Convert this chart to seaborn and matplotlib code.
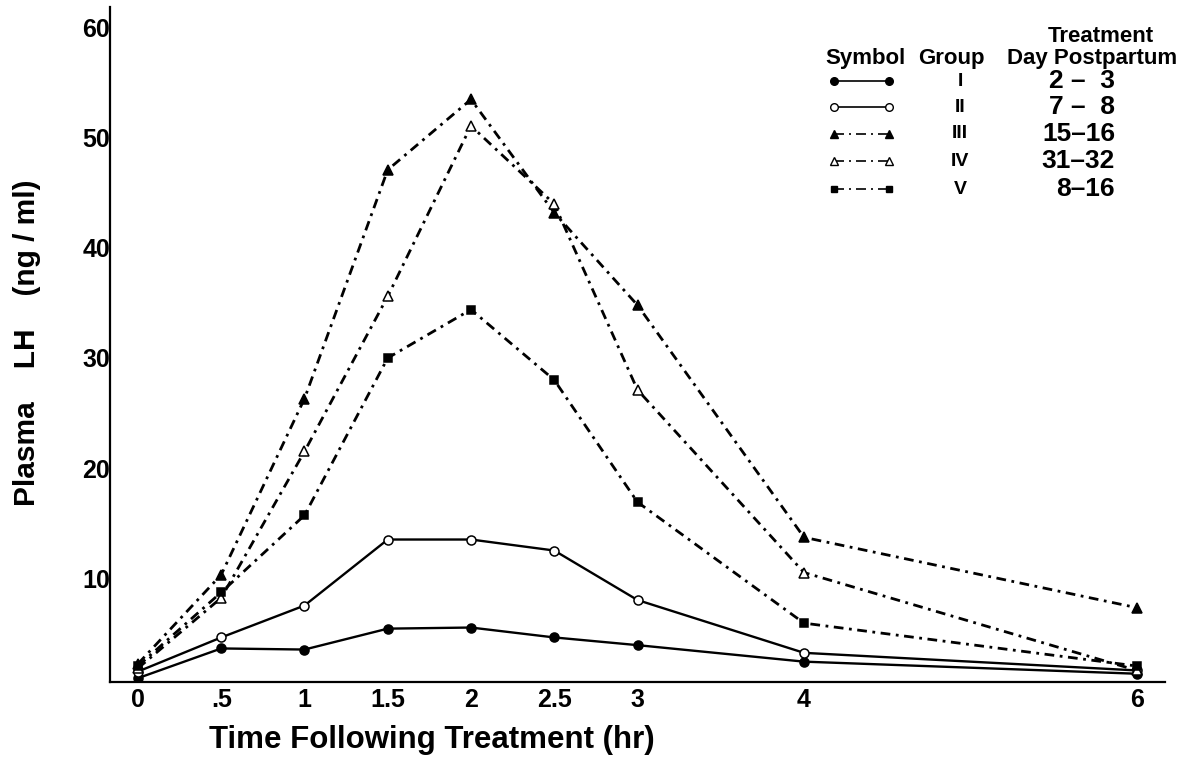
import matplotlib
matplotlib.use("Agg")
import matplotlib.pyplot as plt
from matplotlib.lines import Line2D
import seaborn as sns
import pandas as pd

# ---- data ----
times = [0, 0.5, 1, 1.5, 2, 2.5, 3, 4, 6]
group_I = [0.9, 3.6, 3.5, 5.4, 5.5, 4.6, 3.9, 2.4, 1.3]
group_II = [1.5, 4.6, 7.5, 13.5, 13.5, 12.5, 8.0, 3.2, 1.6]
group_III = [2.2, 10.3, 26.3, 47.1, 53.5, 43.2, 34.8, 13.7, 7.3]
group_IV = [1.8, 8.2, 21.5, 35.6, 51.1, 44.0, 27.1, 10.5, 1.6]
group_V = [2.0, 8.7, 15.7, 30.0, 34.4, 28.0, 16.9, 5.9, 2.0]

group_names = ["I", "II", "III", "IV", "V"]
day_labels = ["2 \u2013  3", "7 \u2013  8", "15\u201316", "31\u201332", "8\u201316"]
x_ticks = [0, 0.5, 1, 1.5, 2, 2.5, 3, 4, 6]
x_tick_labels = ["0", ".5", "1", "1.5", "2", "2.5", "3", "4", "6"]
y_ticks = [10, 20, 30, 40, 50, 60]

series = [group_I, group_II, group_III, group_IV, group_V]

# ---- styles ----
DASHDOT = (0, (3.5, 2.0, 1.0, 2.0))
styles = [
    dict(marker="o", mfc="black", ms=6.5, ls="-", lw=1.7),
    dict(marker="o", mfc="white", ms=6.5, ls="-", lw=1.7),
    dict(marker="^", mfc="black", ms=6.5, ls=DASHDOT, lw=2.0),
    dict(marker="^", mfc="white", ms=6.5, ls=DASHDOT, lw=2.0),
    dict(marker="s", mfc="black", ms=5.5, ls=DASHDOT, lw=2.0),
]

sns.set_style("white")
plt.rcParams["font.family"] = ["Liberation Sans", "DejaVu Sans"]
plt.rcParams["text.color"] = "black"
plt.rcParams["axes.labelcolor"] = "black"
plt.rcParams["xtick.color"] = "black"
plt.rcParams["ytick.color"] = "black"

W, H = 1199, 763
fig = plt.figure(figsize=(W / 100, H / 100), dpi=100)
ax = fig.add_axes([110 / W, 1 - 682 / H, 1055 / W, 675 / H])

for name, vals, st in zip(group_names, series, styles):
    df = pd.DataFrame({"time": times, "lh": vals})
    sns.lineplot(data=df, x="time", y="lh", ax=ax, color="black",
                 marker=st["marker"], markersize=st["ms"],
                 markerfacecolor=st["mfc"], markeredgecolor="black",
                 markeredgewidth=1.1, linestyle=st["ls"], linewidth=st["lw"],
                 errorbar=None, sort=False, legend=False)

ax.set_xlim(-0.168, 6.168)
ax.set_ylim(0.55, 61.9)
ax.set_xticks(x_ticks)
ax.set_xticklabels(x_tick_labels)
ax.set_yticks(y_ticks)
ax.set_yticklabels([str(v) for v in y_ticks])
ax.tick_params(axis="both", length=0, labelsize=18, colors="black")
ax.tick_params(axis="x", pad=4)
ax.tick_params(axis="y", pad=0)
for lab in ax.get_xticklabels() + ax.get_yticklabels():
    lab.set_fontweight("bold")
    lab.set_color("black")

for s in ["top", "right"]:
    ax.spines[s].set_visible(False)
for s in ["left", "bottom"]:
    ax.spines[s].set_color("black")
    ax.spines[s].set_linewidth(1.6)

ax.set_xlabel("Time Following Treatment (hr)",
              family=["Liberation Sans Narrow", "Liberation Sans", "DejaVu Sans"],
              fontsize=22.5, fontweight="bold", color="black")
ax.xaxis.set_label_coords((432 - 110) / 1055, (682 - 740) / 675)
ax.xaxis.label.set_va("center")

ax.set_ylabel("Plasma    LH    (ng / ml)", fontsize=21.5, fontweight="bold",
              color="black")
ax.yaxis.set_label_coords((27 - 110) / 1055, (682 - 343) / 675)
ax.yaxis.label.set_va("center")


def fx(px):
    return px / W


def fy(py):
    return 1 - py / H


# ---- legend table ----
hdr_kw = dict(fontsize=16, fontweight="bold", color="black",
              transform=fig.transFigure)
fig.text(fx(1101), fy(42), "Treatment", ha="center", va="baseline", **hdr_kw)
fig.text(fx(865), fy(64), "Symbol", ha="center", va="baseline", **hdr_kw)
fig.text(fx(951), fy(64), "Group", ha="center", va="baseline", **hdr_kw)
fig.text(fx(1092), fy(64), "Day Postpartum", ha="center", va="baseline", **hdr_kw)

row_y = [81, 107, 134, 161, 189]
LEG_DD = (0, (6, 3, 1.2, 3))
for i, (name, days, st) in enumerate(zip(group_names, day_labels, styles)):
    y = fy(row_y[i])
    ls = "-" if st["ls"] == "-" else LEG_DD
    ln = Line2D([fx(834), fx(889)], [y, y], transform=fig.transFigure,
                color="black", linestyle=ls, linewidth=1.2,
                marker=st["marker"], markersize=st["ms"] - 1.0,
                markerfacecolor=st["mfc"], markeredgecolor="black",
                markeredgewidth=1.0)
    fig.add_artist(ln)
    fig.text(fx(960), y, name, ha="center", va="center", fontsize=14,
             fontweight="bold", color="black", transform=fig.transFigure)
    fig.text(fx(1115), y, days, ha="right", va="center", fontsize=19,
             fontweight="bold", color="black", transform=fig.transFigure)

fig.savefig("out.png", dpi=100, facecolor="white")
